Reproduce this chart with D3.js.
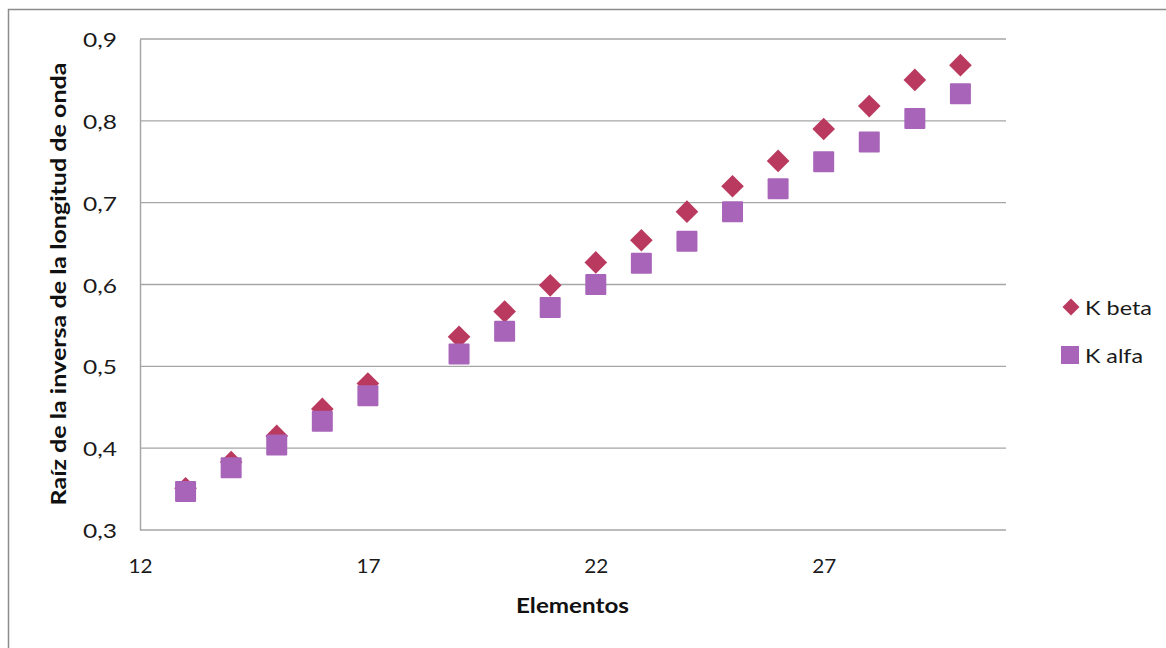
<!DOCTYPE html>
<html><head><meta charset="utf-8">
<script src="https://cdn.jsdelivr.net/npm/d3@7"></script>
<style>html,body{margin:0;padding:0;background:#fff;}svg{display:block;}</style>
</head><body>
<svg id="c" width="1166" height="648"></svg>
<script>
const elements = [13,14,15,16,17,19,20,21,22,23,24,25,26,27,28,29,30];
const kBeta = [0.351,0.383,0.415,0.448,0.479,0.536,0.567,0.599,0.627,0.654,0.689,0.720,0.751,0.790,0.818,0.850,0.868];
const kAlfa = [0.347,0.376,0.404,0.433,0.464,0.515,0.543,0.572,0.600,0.626,0.653,0.689,0.717,0.750,0.774,0.803,0.833];
const xTicks = [12,17,22,27];
const yTicks = [0.3,0.4,0.5,0.6,0.7,0.8,0.9];
const seriesNames = ["K beta","K alfa"];

const svg = d3.select("#c");
const font = "Lato, 'Open Sans', sans-serif";
const L=140, R=1006, T=39, B=530;
const x = d3.scaleLinear().domain([12,31]).range([L,R]);
const y = d3.scaleLinear().domain([0.3,0.9]).range([B,T]);

// outer border
svg.append("rect").attr("x",8.5).attr("y",9.5).attr("width",1170).attr("height",650)
  .attr("fill","none").attr("stroke","#8c8c8c").attr("stroke-width",1.5);

// gridlines
svg.append("g").selectAll("line").data(yTicks.slice(1)).join("line")
  .attr("x1",L).attr("x2",R).attr("y1",d=>y(d)).attr("y2",d=>y(d))
  .attr("stroke","#a6a6a6").attr("stroke-width",1.3);

// axes
const gx = svg.append("g").attr("transform",`translate(0,${B})`)
  .call(d3.axisBottom(x).tickValues(xTicks).tickSize(0).tickPadding(29).tickFormat(d3.format("d")));
const gy = svg.append("g").attr("transform",`translate(${L},0)`)
  .call(d3.axisLeft(y).tickValues(yTicks).tickSize(0).tickPadding(23).tickFormat(d=>d3.format(".1f")(d).replace(".",",")));
[gx,gy].forEach(g=>{
  g.select(".domain").attr("stroke","#a6a6a6").attr("stroke-width",1.5);
  g.selectAll("text").attr("font-family",font).attr("font-size",20).attr("fill","#1a1a1a")
    .attr("lengthAdjust","spacingAndGlyphs");
});
gy.selectAll("text").attr("textLength",34).attr("dy","0.38em");
gx.selectAll("text").attr("textLength",24);
gx.select(".domain").attr("d",`M${L},0H${R}`);

// axis titles
svg.append("text").attr("x",572.5).attr("y",613).attr("text-anchor","middle")
  .attr("font-family",font).attr("font-weight","bold").attr("font-size",21).attr("fill","#111")
  .attr("textLength",113).attr("lengthAdjust","spacingAndGlyphs").text("Elementos");
svg.append("text").attr("transform","translate(66,284) rotate(-90)").attr("text-anchor","middle")
  .attr("font-family",font).attr("font-weight","bold").attr("font-size",21).attr("fill","#111")
  .attr("textLength",443).attr("lengthAdjust","spacingAndGlyphs")
  .text("Raíz de la inversa de la longitud de onda");

const betaColor = "#B9395F", alfaColor = "#A864B9";
const diamond = d3.symbol().type(d3.symbolSquare).size(256);
// K beta diamonds
svg.append("g").selectAll("path").data(elements).join("path")
  .attr("d",diamond)
  .attr("transform",(d,i)=>`translate(${x(d)},${y(kBeta[i])}) rotate(45)`)
  .attr("fill",betaColor);
// K alfa squares
svg.append("g").selectAll("rect").data(elements).join("rect")
  .attr("x",d=>x(d)-10.5).attr("y",(d,i)=>y(kAlfa[i])-10.5)
  .attr("width",21).attr("height",21).attr("rx",1)
  .attr("fill",alfaColor);

// legend
const lg = svg.append("g");
lg.append("path").attr("d",d3.symbol().type(d3.symbolSquare).size(145))
  .attr("transform","translate(1071,307) rotate(45)").attr("fill",betaColor);
lg.append("rect").attr("x",1061).attr("y",346).attr("width",18).attr("height",18).attr("fill",alfaColor);
lg.append("text").attr("x",1085).attr("y",315).attr("font-family",font).attr("font-size",20).attr("fill","#1a1a1a")
  .attr("textLength",67).attr("lengthAdjust","spacingAndGlyphs").text(seriesNames[0]);
lg.append("text").attr("x",1085).attr("y",363).attr("font-family",font).attr("font-size",20).attr("fill","#1a1a1a")
  .attr("textLength",58).attr("lengthAdjust","spacingAndGlyphs").text(seriesNames[1]);
</script>
</body></html>
